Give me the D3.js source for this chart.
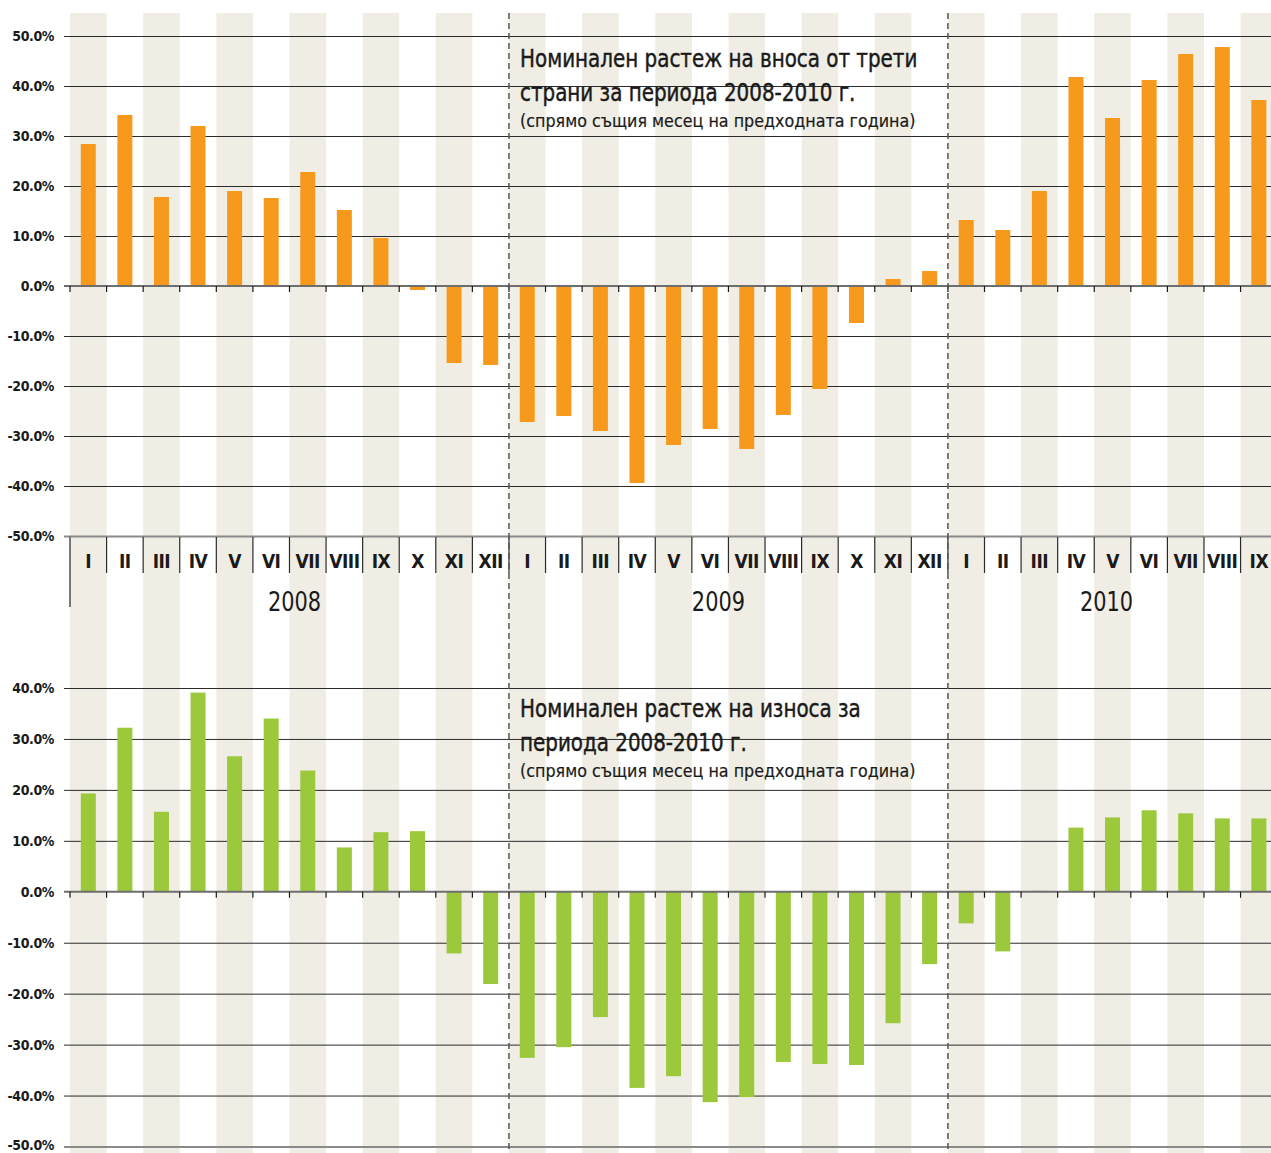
<!DOCTYPE html>
<html><head><meta charset="utf-8">
<script src="https://cdn.jsdelivr.net/npm/d3@7"></script>
<style>
body{margin:0;background:#fff;}
svg{display:block;}
text{font-family:"Liberation Sans Narrow","DejaVu Sans Condensed","Roboto",sans-serif;fill:#1a1a1a;}
</style></head>
<body>
<script>
// ---- data ----
const years = ["2008","2009","2010"];
const monthsPerYear = [12,12,9];
const monthNames = ["I","II","III","IV","V","VI","VII","VIII","IX","X","XI","XII"];
const importGrowth = [28.4,34.2,17.8,32.0,19.0,17.6,22.8,15.2,9.6,-0.8,-15.4,-15.8,
  -27.2,-26.0,-29.0,-39.4,-31.8,-28.6,-32.6,-25.8,-20.6,-7.4,1.4,3.0,
  13.2,11.2,19.0,41.8,33.6,41.2,46.4,47.8,37.2];
const exportGrowth = [19.3,32.2,15.7,39.1,26.6,34.0,23.8,8.7,11.7,11.9,-12.1,-18.1,
  -32.6,-30.5,-24.6,-38.5,-36.2,-41.3,-40.3,-33.4,-33.8,-34.0,-25.8,-14.2,
  -6.2,-11.7,0.2,12.6,14.6,16.0,15.4,14.4,14.4];
const importTicks = [50,40,30,20,10,0,-10,-20,-30,-40,-50];
const exportTicks = [40,30,20,10,0,-10,-20,-30,-40,-50];
const importTitle = ["Номинален растеж на вноса от трети","страни за периода 2008-2010 г."];
const exportTitle = ["Номинален растеж на износа за","периода 2008-2010 г."];
const subTitle = "(спрямо същия месец на предходната година)";

// ---- build month list ----
const months = [];
years.forEach((y,yi)=>{ for(let m=0;m<monthsPerYear[yi];m++) months.push({year:y, name:monthNames[m], idx:months.length}); });

const W=1271, H=1153;
const svg = d3.select("body").append("svg").attr("width",W).attr("height",H);

const step = 36.58;
const x = d3.scaleBand().domain(months.map(d=>d.idx)).range([70, 70+step*months.length]).padding(0);
const barW = 15;

const yTop = d3.scaleLinear().domain([-50,50]).range([536,36]);
const yBot = d3.scaleLinear().domain([-50,40]).range([1146.5,688]);

// background bands
svg.append("g").selectAll("rect").data(months.filter(d=>d.idx%2===0)).join("rect")
  .attr("x",d=>x(d.idx)).attr("y",13).attr("width",x.bandwidth()).attr("height",H-13)
  .attr("fill","#f0ede4");

function condText(g, tx, ty, sx, size, weight, str, anchor){
  return g.append("text").attr("transform",`translate(${tx},${ty}) scale(${sx},1)`)
    .attr("font-size",size).attr("font-weight",weight).attr("text-anchor",anchor||"start").text(str);
}

function panel(y, ticks, values, color, title, titleY){
  // gridlines + labels
  const ax = d3.axisLeft(y).tickValues(ticks).tickSize(-(W-64+10)).tickPadding(10)
    .tickFormat(d=>d.toFixed(1)+"%");
  const g = svg.append("g").attr("transform","translate(64,0)").call(ax);
  g.select(".domain").remove();
  g.selectAll(".tick line").attr("stroke","#2b2b2b").attr("stroke-width",1);
  g.selectAll(".tick text").attr("font-size",14).attr("font-weight","bold").attr("fill","#1a1a1a")
    .style("letter-spacing","-0.4px");
  g.selectAll(".tick").filter(d=>d===-50).select("line").attr("stroke","#8a8a8a").attr("stroke-width",2);
  g.selectAll(".tick").filter(d=>d===0).select("line").attr("stroke","transparent");

  // title
  const t = svg.append("g");
  title.forEach((s,i)=>condText(t,520,titleY+i*34,0.885,25,"normal",s)
     .attr("stroke","#1a1a1a").attr("stroke-width",0.45));
  condText(t,520,titleY+60,0.985,18,"normal",subTitle).attr("stroke","#1a1a1a").attr("stroke-width",0.2);

  // bars
  svg.append("g").selectAll("rect").data(values).join("rect")
    .attr("x",(d,i)=>x(i)+(x.bandwidth()-barW)/2)
    .attr("width",barW)
    .attr("y",d=>y(Math.max(0,d)))
    .attr("height",d=>Math.max(0.8,Math.abs(y(d)-y(0))))
    .attr("fill",color);

  // zero line with ticks
  const z = svg.append("g");
  z.append("line").attr("x1",64).attr("x2",W).attr("y1",y(0)).attr("y2",y(0))
    .attr("stroke","#6e6e6e").attr("stroke-width",2);
  z.selectAll(".zt").data(months).join("line").attr("class","zt")
    .attr("x1",d=>x(d.idx)).attr("x2",d=>x(d.idx)).attr("y1",y(0)).attr("y2",y(0)+6)
    .attr("stroke","#1a1a1a").attr("stroke-width",1.2);
  return g;
}

panel(yTop, importTicks, importGrowth, "#f7991c", importTitle, 67);
const gb = panel(yBot, exportTicks, exportGrowth, "#9bc93b", exportTitle, 717);
gb.selectAll(".tick").filter(d=>d===-50).select("text").attr("dy","0.2em");

// category axis between the panels
const cat = svg.append("g");
cat.selectAll(".sep").data(months.slice(1)).join("line").attr("class","sep")
  .attr("x1",d=>x(d.idx)).attr("x2",d=>x(d.idx)).attr("y1",537).attr("y2",573)
  .attr("stroke","#2b2b2b").attr("stroke-width",1.2);
cat.append("line").attr("x1",70).attr("x2",70).attr("y1",536).attr("y2",607)
  .attr("stroke","#7a7a7a").attr("stroke-width",2);
cat.selectAll(".ml").data(months).join("text").attr("class","ml")
  .attr("x",d=>x(d.idx)+x.bandwidth()/2).attr("y",568).attr("text-anchor","middle")
  .attr("font-size",19).attr("font-weight","bold").style("letter-spacing","-0.5px").text(d=>d.name);

// year labels
let start=0;
const yearPos = years.map((y,i)=>{ const s=start; start+=monthsPerYear[i]; return {year:y, s, n:monthsPerYear[i]}; });
yearPos.forEach(d=>{
  const cx = x(d.s) + (d.n*step)/2 + (d.year==="2009"?-10:(d.year==="2010"?-6:5));
  condText(cat, cx, 611, 0.86, 27, "normal", d.year, "middle");
});

// year dividers (dashed)
svg.append("g").selectAll("line").data(yearPos.slice(1)).join("line")
  .attr("x1",d=>x(d.s)).attr("x2",d=>x(d.s)).attr("y1",13).attr("y2",H)
  .attr("stroke","#555").attr("stroke-width",1.5).attr("stroke-dasharray","6,4");
</script>
</body></html>
